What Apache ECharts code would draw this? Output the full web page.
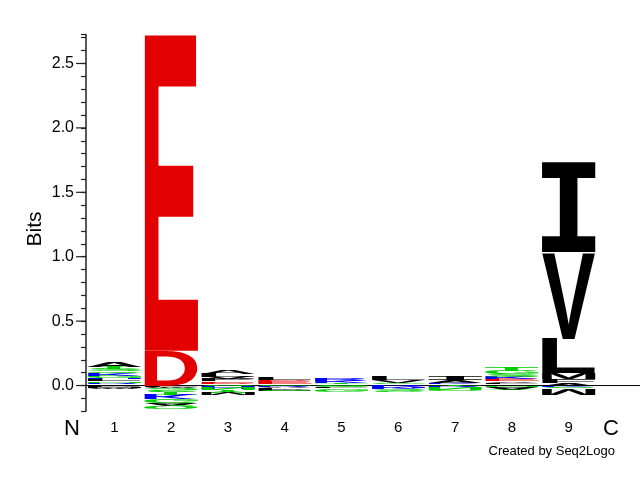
<!DOCTYPE html>
<html><head><meta charset="utf-8">
<script src="https://cdn.jsdelivr.net/npm/echarts@6/dist/echarts.min.js"></script>
<style>html,body{margin:0;padding:0;background:#fff}#c{width:640px;height:480px}</style>
</head><body><div id="c"></div><script>
// ---- data ----
const positions = ['1','2','3','4','5','6','7','8','9'];
// positive stacks, bottom -> top: [letter, bits]
const up1 = [['I',0.010],['R',0.012],['N',0.012],['L',0.014],['H',0.014],['G',0.015],['K',0.016],['Q',0.016],['S',0.018],['T',0.020],['A',0.040]];
const up2 = [['D',0.270],['E',2.455]];
const up3 = [['S',0.010],['D',0.010],['E',0.012],['P',0.015],['V',0.020],['L',0.025],['A',0.030]];
const up4 = [['G',0.012],['E',0.020],['D',0.012],['L',0.018]];
const up5 = [['S',0.010],['T',0.012],['K',0.015],['R',0.020]];
const up6 = [['R',0.010],['G',0.012],['V',0.020],['L',0.030]];
const up7 = [['T',0.010],['K',0.012],['A',0.020],['I',0.028]];
const up8 = [['P',0.010],['L',0.012],['V',0.012],['E',0.015],['K',0.020],['S',0.020],['G',0.025],['T',0.030]];
const up9 = [['A',0.020],['F',0.030],['M',0.045],['L',0.270],['V',0.670],['I',0.700]];
// negative stacks, top -> bottom: [letter, bits]
const dn1 = [['P',0.010],['M',0.012],['W',0.008]];
const dn2 = [['F',0.012],['W',0.010],['S',0.025],['T',0.020],['K',0.040],['G',0.030],['A',0.020],['Q',0.022]];
const dn3 = [['H',0.015],['N',0.020],['Y',0.015],['M',0.015]];
const dn4 = [['R',0.010],['A',0.012],['P',0.015],['S',0.010]];
const dn5 = [['Q',0.015],['L',0.012],['G',0.015]];
const dn6 = [['K',0.015],['H',0.012],['S',0.020]];
const dn7 = [['R',0.012],['N',0.020],['G',0.010]];
const dn8 = [['N',0.012],['A',0.015],['Y',0.010]];
const dn9 = [['K',0.012],['S',0.012],['M',0.045]];
const majorTicks = [0, 0.5, 1.0, 1.5, 2.0, 2.5];

const stacksUp = [up1,up2,up3,up4,up5,up6,up7,up8,up9];
const stacksDn = [dn1,dn2,dn3,dn4,dn5,dn6,dn7,dn8,dn9];

const colorOf = ch => ('DE'.includes(ch) ? '#e30000' : 'HKR'.includes(ch) ? '#0000ff' : 'GNQSTYC'.includes(ch) ? '#00cc00' : '#000000');
const fontOf = ch => (ch === 'I' ? 'bold 100px "DejaVu Sans Mono"' : 'bold 100px "Liberation Sans"');

const items = [];
stacksUp.forEach((st, col) => { let y = 0; st.forEach(([ch, b]) => { items.push({col, y0: y, y1: y + b, ch, flip: false}); y += b; }); });
stacksDn.forEach((st, col) => { let y = 0; st.forEach(([ch, b]) => { items.push({col, y0: y - b, y1: y, ch, flip: true}); y -= b; }); });

const mctx = document.createElement('canvas').getContext('2d');
const mcache = {};
function metrics(ch) {
  const f = fontOf(ch);
  const k = f + ch;
  if (mcache[k]) return mcache[k];
  mctx.font = f; mctx.textBaseline = 'middle'; mctx.textAlign = 'left';
  const m = mctx.measureText(ch);
  return mcache[k] = {l: m.actualBoundingBoxLeft, r: m.actualBoundingBoxRight, a: m.actualBoundingBoxAscent, d: m.actualBoundingBoxDescent};
}

function renderLetter(params, api) {
  const it = items[params.dataIndex];
  const bw = api.size([1, 0])[0];
  const cx = api.coord([it.col, 0])[0];
  const ya = api.coord([it.col, it.y0])[1];
  const yb = api.coord([it.col, it.y1])[1];
  const h = Math.abs(ya - yb);
  const m = metrics(it.ch);
  const sx = bw * 0.95 / (m.l + m.r);
  const sy = h / (m.a + m.d);
  const bottom = Math.max(ya, yb), top = Math.min(ya, yb);
  return {
    type: 'text', x: cx, y: it.flip ? top : bottom, scaleX: sx, scaleY: it.flip ? -sy : sy, silent: true,
    style: {text: it.ch, x: (m.l - m.r) / 2, y: -m.d, font: fontOf(it.ch), fill: colorOf(it.ch), align: 'left', verticalAlign: 'middle'}
  };
}

const chart = echarts.init(document.getElementById('c'), null, {renderer: 'canvas'});
chart.setOption({
  animation: false,
  grid: {left: 86, right: 43, top: 34.5, bottom: 68.7, containLabel: false},
  xAxis: {
    type: 'category', data: positions, boundaryGap: true,
    axisLine: {show: false, onZero: false}, axisTick: {show: false},
    axisLabel: {color: '#000', fontSize: 15, fontFamily: 'Liberation Sans', margin: 9},
    splitLine: {show: false}
  },
  yAxis: {
    type: 'value', min: -0.2, max: 2.725, interval: 0.1,
    axisLine: {show: true, lineStyle: {color: '#222', width: 1.5}},
    axisTick: {show: true, length: 5, lineStyle: {color: '#222', width: 1.2}},
    axisLabel: {color: '#000', fontSize: 16, fontFamily: 'Liberation Sans', margin: 12,
      formatter: v => (v >= -1e-9 && Math.abs(v * 2 - Math.round(v * 2)) < 1e-6 && v < 2.6) ? v.toFixed(1) : ''},
    splitLine: {show: false}
  },
  graphic: [
    {type: 'text', x: 35, y: 229, rotation: Math.PI / 2, style: {text: 'Bits', fontSize: 21, fontFamily: 'Liberation Sans', fill: '#000', align: 'center', verticalAlign: 'middle'}},
    {type: 'text', left: 64, top: 418, style: {text: 'N', fontSize: 22, fontFamily: 'Liberation Sans', fill: '#000'}},
    {type: 'text', left: 603, top: 418, style: {text: 'C', fontSize: 22, fontFamily: 'Liberation Sans', fill: '#000'}},
    {type: 'text', right: 25, top: 445, style: {text: 'Created by Seq2Logo', fontSize: 13, fontFamily: 'Liberation Sans', fill: '#000'}}
  ],
  series: [
    {
      type: 'custom', name: 'zero', silent: true, data: [0],
      renderItem: (params, api) => {
        const cs = params.coordSys;
        const y = api.coord([0, 0])[1];
        return {type: 'line', shape: {x1: cs.x, y1: y, x2: api.getWidth(), y2: y}, style: {stroke: '#000', lineWidth: 1}};
      }
    },
    {
      type: 'custom', name: 'letters', silent: true,
      data: items.map(it => [it.col, it.y0, it.y1]),
      encode: {x: 0, y: [1, 2]},
      renderItem: renderLetter
    },
    {
      type: 'custom', name: 'majorTicks', silent: true,
      data: majorTicks.map(v => [0, v]),
      encode: {x: 0, y: 1},
      renderItem: (params, api) => {
        const cs = params.coordSys;
        const y = api.coord([0, majorTicks[params.dataIndex]])[1];
        return {type: 'line', shape: {x1: cs.x - 10, y1: y, x2: cs.x, y2: y}, style: {stroke: '#222', lineWidth: 1.2}};
      }
    }
  ]
});
</script></body></html>
